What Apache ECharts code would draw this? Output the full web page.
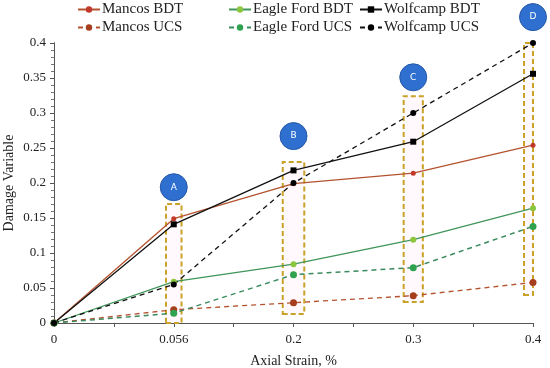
<!DOCTYPE html>
<html><head><meta charset="utf-8">
<script src="https://cdn.jsdelivr.net/npm/echarts@6/dist/echarts.min.js"></script>
<style>html,body{margin:0;padding:0;background:#fff}#c{width:550px;height:368px}</style>
</head><body><div id="c"></div>
<script>
const xLabels = ['0', '0.056', '0.2', '0.3', '0.4'];
const mancosBDT = [0, 0.149, 0.199, 0.214, 0.254];
const mancosUCS = [0, 0.019, 0.029, 0.039, 0.058];
const eagleBDT = [0, 0.059, 0.084, 0.119, 0.164];
const eagleUCS = [0, 0.014, 0.069, 0.079, 0.138];
const wolfBDT = [0, 0.141, 0.218, 0.259, 0.356];
const wolfUCS = [0, 0.055, 0.2, 0.3, 0.4];
const boxLabels = ['A', 'B', 'C', 'D'];
const boxRanges = [[0, 0.17], [0.013, 0.23], [0.03, 0.324], [0.04, 0.411]];
const boxHalfWidth = [0.065, 0.09, 0.08, 0.075];
const circleY = [0.194, 0.267, 0.351, 0.437];

const font = 'Liberation Serif';
const pts = arr => arr.map((v, i) => [i, v]);

function mk(name, data, color, mColor, dashed, symbol, size, lw) {
  return {
    name, type: 'line', data: pts(data), clip: false,
    symbol, symbolSize: size,
    itemStyle: { color: mColor },
    lineStyle: { color, width: lw, type: dashed ? [5, 4] : 'solid' },
    z: 3
  };
}

const series = [
  mk('Mancos BDT', mancosBDT, '#b4522e', '#c0392b', false, 'circle', 5, 1.3),
  mk('Eagle Ford BDT', eagleBDT, '#3f955a', '#8cc63f', false, 'circle', 6, 1.3),
  mk('Wolfcamp BDT', wolfBDT, '#111111', '#000000', false, 'rect', 6, 1.3),
  mk('Mancos UCS', mancosUCS, '#b4522e', '#a63d1c', true, 'circle', 7, 1.3),
  mk('Eagle Ford UCS', eagleUCS, '#3a8a5e', '#2fa24f', true, 'circle', 7, 1.5),
  mk('Wolfcamp UCS', wolfUCS, '#111111', '#000000', true, 'circle', 6, 1.3),
  {
    name: 'annot', type: 'line', data: [], z: 2, clip: false,
    markArea: {
      silent: true,
      itemStyle: { color: 'rgba(255,200,230,0.12)', borderColor: '#c9a227', borderWidth: 2, borderType: [5, 3] },
      data: boxRanges.map((r, k) => [
        { xAxis: k + 1 - boxHalfWidth[k], yAxis: r[0] },
        { xAxis: k + 1 + boxHalfWidth[k], yAxis: r[1] }
      ])
    }
  }
];

const legendPos = [
  ['Mancos BDT', 77, 2], ['Eagle Ford BDT', 228, 2], ['Wolfcamp BDT', 359, 2],
  ['Mancos UCS', 77, 20], ['Eagle Ford UCS', 228, 20], ['Wolfcamp UCS', 359, 20]
];

const option = {
  animation: false,
  backgroundColor: '#fff',
  legend: legendPos.map(([n, l, t]) => ({
    data: [n], left: l, top: t, itemWidth: 22, itemHeight: 8, itemGap: 0, padding: 0,
    textStyle: { fontFamily: font, fontSize: 15, color: '#222', padding: [0, 0, 0, -3] }
  })),
  grid: { left: 54, right: 17, top: 43, bottom: 45, containLabel: false, outerBoundsMode: 'none' },
  xAxis: [{
    type: 'value', min: 0, max: 4, interval: 0.5,
    name: 'Axial Strain, %', nameLocation: 'middle', nameGap: 31, nameMoveOverlap: false,
    nameTextStyle: { fontFamily: font, fontSize: 14, color: '#222' },
    axisLine: { lineStyle: { color: '#555', width: 1 } },
    axisTick: { show: true, length: 4, lineStyle: { color: '#555' } },
    splitLine: { show: false },
    axisLabel: { fontFamily: font, fontSize: 13, color: '#222', margin: 10,
      formatter: v => Number.isInteger(v) ? xLabels[v] : '' }
  }, {
    type: 'value', min: 0, max: 4, position: 'top',
    axisLine: { show: true, lineStyle: { color: '#555' } },
    axisTick: { show: false }, axisLabel: { show: false }, splitLine: { show: false }
  }],
  yAxis: [{
    type: 'value', min: 0, max: 0.4, interval: 0.05,
    name: 'Damage Variable', nameLocation: 'middle', nameGap: 38, nameMoveOverlap: false,
    nameTextStyle: { fontFamily: font, fontSize: 14, color: '#222' },
    axisLine: { show: true, lineStyle: { color: '#555', width: 1 } },
    axisTick: { show: true, length: 4, lineStyle: { color: '#555' } },
    minorTick: { show: true, splitNumber: 5, length: 3, lineStyle: { color: '#777' } },
    splitLine: { show: false },
    axisLabel: { fontFamily: font, fontSize: 13, color: '#222', margin: 8,
      formatter: v => String(+v.toFixed(2)) }
  }, {
    type: 'value', min: 0, max: 0.4, position: 'right',
    axisLine: { show: true, lineStyle: { color: '#555' } },
    axisTick: { show: false }, axisLabel: { show: false }, splitLine: { show: false }
  }],
  series
};
const chart = echarts.init(document.getElementById('c'));
chart.setOption(option);
const circles = boxLabels.map((l, k) => {
  const p = chart.convertToPixel({ gridIndex: 0 }, [k + 1, circleY[k]]);
  return {
    type: 'group', x: p[0], y: p[1], z: 10,
    children: [
      { type: 'circle', shape: { cx: 0, cy: 0, r: 13.5 }, style: { fill: '#2f6fd0', stroke: '#2458a8', lineWidth: 1 } },
      { type: 'text', style: { text: l, x: 0, y: 0, fill: '#fff', font: '9px DejaVu Sans', align: 'center', verticalAlign: 'middle' } }
    ]
  };
});
chart.setOption({ graphic: circles });
</script></body></html>
